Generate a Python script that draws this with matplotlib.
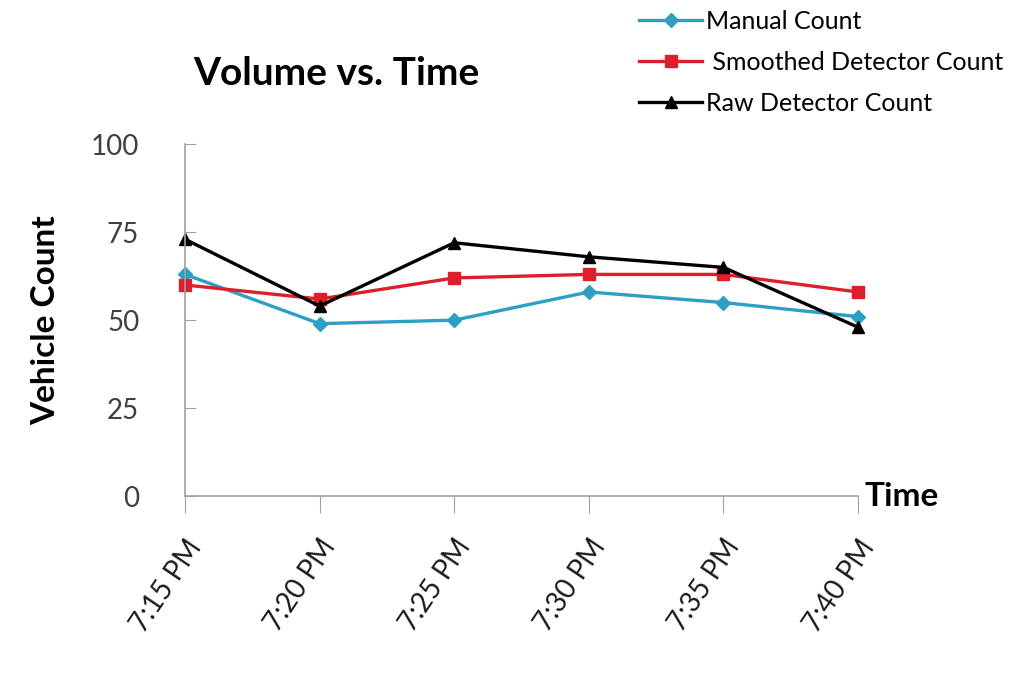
import matplotlib.pyplot as plt

times = ['7:15 PM', '7:20 PM', '7:25 PM', '7:30 PM', '7:35 PM', '7:40 PM']
manual = [63, 49, 50, 58, 55, 51]
smoothed = [60, 56, 62, 63, 63, 58]
raw = [73, 54, 72, 68, 65, 48]
yticks = [0, 25, 50, 75, 100]

plt.rcParams['font.family'] = ['Lato', 'DejaVu Sans']

fig = plt.figure(figsize=(10.28, 6.87), dpi=100)
ax = fig.add_axes([0.18, 0.278, 0.6546, 0.512])

x = range(len(times))
ax.plot(x, manual, color='#2b9fc4', lw=2.4, marker='D', ms=7, label='Manual Count')
ax.plot(x, smoothed, color='#dc1f2b', lw=2.4, marker='s', ms=9, label=' Smoothed Detector Count')
ax.plot(x, raw, color='black', lw=2.4, marker='^', ms=9, label='Raw Detector Count')

ax.set_xlim(0, len(times) - 1)
ax.set_ylim(0, 100)
ax.set_yticks(yticks)
ax.set_yticklabels([str(v) for v in yticks], fontsize=20, color='#404040')
ax.set_xticks(list(x))
ax.set_xticklabels(times, rotation=56, ha='right', rotation_mode='anchor',
                   fontsize=20, color='#1a1a1a')
ax.tick_params(axis='y', direction='in', length=8, color='#a0a0a0', pad=33)
ax.tick_params(axis='x', direction='out', length=12, color='#a0a0a0', pad=16)
for s in ['top', 'right']:
    ax.spines[s].set_visible(False)
for s in ['left', 'bottom']:
    ax.spines[s].set_color('#a0a0a0')
    ax.spines[s].set_linewidth(1.2)
for ln in ax.lines:
    ln.set_clip_on(False)

ax.set_ylabel('Vehicle Count', fontsize=24, fontweight='bold', labelpad=22)
ax.text(1.01, 0, 'Time', transform=ax.transAxes, fontsize=24, fontweight='bold',
        va='center', ha='left')
fig.text(0.188, 0.893, 'Volume vs. Time', fontsize=28, fontweight='bold', va='center')

fig.legend(loc='upper left', bbox_to_anchor=(0.6, 1.018), frameon=False,
           fontsize=18, handlelength=2.5, handletextpad=0.15, labelspacing=0.72)

fig.savefig('out.png', dpi=100)
